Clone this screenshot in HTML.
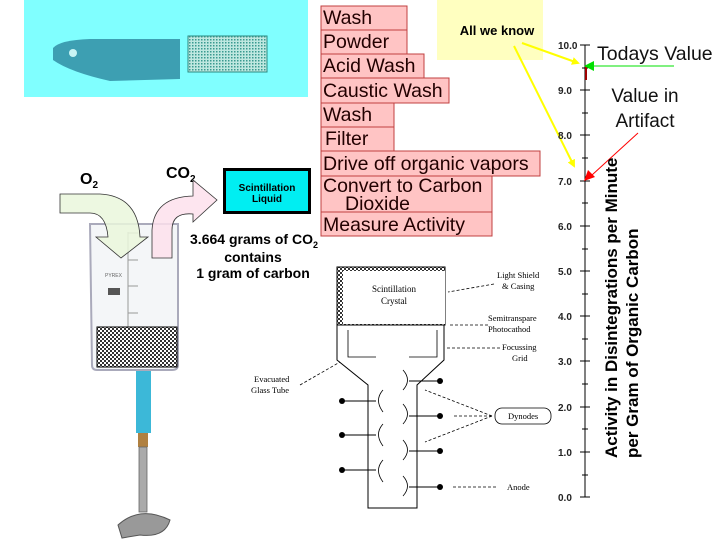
<!DOCTYPE html>
<html><head><style>
body{margin:0;background:#fff;}
svg{display:block;font-family:"Liberation Sans",sans-serif;}
</style></head><body>
<svg width="728" height="546" viewBox="0 0 728 546" xmlns="http://www.w3.org/2000/svg">
<defs>
<pattern id="chk" width="4" height="4" patternUnits="userSpaceOnUse"><rect width="4" height="4" fill="#fff"/><rect width="2" height="2" fill="#333"/><rect x="2" y="2" width="2" height="2" fill="#333"/></pattern>
<pattern id="chk2" width="3" height="3" patternUnits="userSpaceOnUse"><rect width="3" height="3" fill="#bfe8e0"/><rect width="1.5" height="1.5" fill="#3a9a90"/></pattern>
<marker id="ay" markerWidth="8" markerHeight="8" refX="6" refY="4" orient="auto" markerUnits="userSpaceOnUse"><path d="M0,0L8,4L0,8z" fill="#ffff00"/></marker>
</defs>
<rect x="24" y="0" width="284" height="97" fill="#80ffff"/>
<path d="M53,48 Q60,40 90,39 L180,39 L180,79 L110,81 Q70,72 53,60 Z" fill="#3d9fb2"/>
<circle cx="73" cy="53" r="4" fill="#c8f4f4"/>
<rect x="188" y="36" width="79" height="36" fill="url(#chk2)" stroke="#2a8a80"/>
<rect x="437" y="0" width="106" height="60" fill="#ffffc0"/>
<text x="497" y="35" font-size="13" font-weight="bold" text-anchor="middle">All we know</text>
<g fill="#ffc4c4" stroke="#c04040" stroke-width="1">
<rect x="321" y="6" width="86" height="24"/>
<rect x="321" y="30" width="86" height="24"/>
<rect x="321" y="54" width="103" height="24"/>
<rect x="321" y="78" width="128" height="25"/>
<rect x="321" y="103" width="73" height="24"/>
<rect x="321" y="127" width="73" height="24"/>
<rect x="321" y="151" width="219" height="25"/>
<rect x="321" y="176" width="171" height="36"/>
<rect x="321" y="212" width="171" height="24"/>
</g>
<g font-size="19.5" fill="#200">
<text x="323" y="24">Wash</text>
<text x="323" y="48">Powder</text>
<text x="323" y="72">Acid Wash</text>
<text x="323" y="97">Caustic Wash</text>
<text x="323" y="121">Wash</text>
<text x="325" y="145">Filter</text>
<text x="323" y="170">Drive off organic vapors</text>
<text x="323" y="192">Convert to Carbon</text>
<text x="345" y="210">Dioxide</text>
<text x="323" y="231">Measure Activity</text>
</g>
<line x1="522" y1="43" x2="578" y2="63" stroke="#ffff00" stroke-width="2" marker-end="url(#ay)"/>
<line x1="514" y1="46" x2="574" y2="166" stroke="#ffff00" stroke-width="2" marker-end="url(#ay)"/>
<line x1="585" y1="45" x2="585" y2="497" stroke="#000"/>
<g stroke="#000">
<line x1="580" y1="45" x2="590" y2="45"/><line x1="580" y1="90" x2="590" y2="90"/><line x1="580" y1="135" x2="590" y2="135"/><line x1="580" y1="181" x2="590" y2="181"/><line x1="580" y1="226" x2="590" y2="226"/><line x1="580" y1="271" x2="590" y2="271"/><line x1="580" y1="316" x2="590" y2="316"/><line x1="580" y1="361" x2="590" y2="361"/><line x1="580" y1="407" x2="590" y2="407"/><line x1="580" y1="452" x2="590" y2="452"/><line x1="580" y1="497" x2="590" y2="497"/>
<line x1="582" y1="68" x2="588" y2="68"/><line x1="582" y1="113" x2="588" y2="113"/><line x1="582" y1="158" x2="588" y2="158"/><line x1="582" y1="203" x2="588" y2="203"/><line x1="582" y1="249" x2="588" y2="249"/><line x1="582" y1="294" x2="588" y2="294"/><line x1="582" y1="339" x2="588" y2="339"/><line x1="582" y1="384" x2="588" y2="384"/><line x1="582" y1="429" x2="588" y2="429"/><line x1="582" y1="475" x2="588" y2="475"/>
</g>
<g font-size="10" font-weight="bold" fill="#222">
<text x="558" y="49">10.0</text><text x="558" y="94">9.0</text><text x="558" y="139">8.0</text><text x="558" y="185">7.0</text><text x="558" y="230">6.0</text><text x="558" y="275">5.0</text><text x="558" y="320">4.0</text><text x="558" y="365">3.0</text><text x="558" y="411">2.0</text><text x="558" y="456">1.0</text><text x="558" y="501">0.0</text>
</g>
<line x1="586" y1="66" x2="586" y2="80" stroke="#a00000" stroke-width="2"/>
<line x1="674" y1="66" x2="592" y2="66" stroke="#00e000"/>
<path d="M584,66 L594,61 L594,71 Z" fill="#00e000"/>
<line x1="638" y1="133" x2="592" y2="175" stroke="#ff0000"/>
<path d="M584,181 L588,170 L595,177 Z" fill="#ff0000"/>
<text x="597" y="60" font-size="19.5" fill="#111">Todays Value</text>
<text x="645" y="102" font-size="19" fill="#111" text-anchor="middle">Value in</text>
<text x="645" y="127" font-size="19" fill="#111" text-anchor="middle">Artifact</text>
<text transform="translate(617,458) rotate(-90)" font-size="17" font-weight="bold">Activity in Disintegrations per Minute</text>
<text transform="translate(638,458) rotate(-90)" font-size="17" font-weight="bold">per Gram of Organic Carbon</text>
<!-- beaker -->
<path d="M90,224 L178,224 L178,365 Q178,370 172,370 L97,370 Q92,370 92,365 Z" fill="#f4f6f8" stroke="#aab" stroke-width="2"/>
<line x1="128" y1="232" x2="128" y2="327" stroke="#999"/>
<g stroke="#999"><line x1="128" y1="233" x2="138" y2="233"/><line x1="128" y1="260" x2="138" y2="260"/><line x1="128" y1="286" x2="138" y2="286"/><line x1="128" y1="313" x2="138" y2="313"/></g>
<rect x="108" y="288" width="12" height="7" fill="#555"/>
<text x="105" y="277" font-size="5" fill="#666">PYREX</text>
<rect x="97" y="327" width="80" height="40" fill="url(#chk)" stroke="#000"/>
<rect x="136" y="371" width="15" height="62" fill="#3cb8d8"/>
<rect x="138" y="433" width="10" height="14" fill="#b08040"/>
<rect x="139" y="447" width="8" height="65" fill="#aaa" stroke="#666" stroke-width="0.8"/>
<path d="M118,525 Q140,505 170,520 Q165,538 140,535 L122,538 Z" fill="#999" stroke="#555"/>
<!-- O2 CO2 arrows -->
<text x="80" y="184" font-size="16" font-weight="bold">O<tspan font-size="10" dy="4">2</tspan></text>
<text x="166" y="178" font-size="16" font-weight="bold">CO<tspan font-size="10" dy="4">2</tspan></text>
<path d="M60,194 L100,194 Q138,196 140,237 L148,237 L121,258 L96,237 L108,237 Q106,213 90,213 L60,213 Z" fill="#eaf7dc" fill-opacity="0.85" stroke="#333" stroke-width="0.8"/>
<path d="M152,258 L152,230 Q154,197 193,196 L193,180 L217,200 L193,222 L193,214 Q172,212 172,230 L172,258 Z" fill="#fde0ec" fill-opacity="0.85" stroke="#333" stroke-width="0.8"/>
<rect x="224.5" y="169.5" width="85" height="43" fill="#00eef2" stroke="#000" stroke-width="3"/>
<text x="267" y="191" font-size="10" font-weight="bold" text-anchor="middle">Scintillation</text>
<text x="267" y="202" font-size="10" font-weight="bold" text-anchor="middle">Liquid</text>
<g font-size="14" font-weight="bold" text-anchor="middle">
<text x="254" y="244">3.664 grams of CO<tspan font-size="9" dy="4">2</tspan></text>
<text x="253" y="262">contains</text>
<text x="253" y="278">1 gram of carbon</text>
</g>
<!-- PMT diagram -->
<rect x="337" y="267" width="108" height="58" fill="url(#chk)" stroke="#000"/>
<rect x="343" y="271" width="102" height="53" fill="#fff"/>
<text x="394" y="292" font-size="9" font-family="Liberation Serif" text-anchor="middle">Scintillation</text>
<text x="394" y="304" font-size="9" font-family="Liberation Serif" text-anchor="middle">Crystal</text>
<path d="M337,325 L337,360 L368,385 L368,508 L417,508 L417,385 L444,360 L444,325 Z" fill="none" stroke="#000"/>
<path d="M348,330 L348,357 L376,357 M409,357 L437,357 L437,330" fill="none" stroke="#000" stroke-width="0.8"/>
<g stroke="#000" fill="none" stroke-width="0.8">
<path d="M403,370 Q412,380 403,390"/><path d="M403,404 Q412,414 403,424"/><path d="M403,440 Q412,450 403,460"/><path d="M403,476 Q412,486 403,496"/>
<path d="M383,390 Q374,400 383,412"/><path d="M383,424 Q374,434 383,446"/><path d="M383,460 Q374,470 383,482"/>
</g>
<g stroke="#000"><line x1="409" y1="381" x2="440" y2="381"/><line x1="409" y1="416" x2="440" y2="416"/><line x1="409" y1="451" x2="440" y2="451"/><line x1="409" y1="487" x2="440" y2="487"/><line x1="342" y1="401" x2="376" y2="401"/><line x1="342" y1="435" x2="376" y2="435"/><line x1="342" y1="470" x2="376" y2="470"/></g>
<g fill="#000"><circle cx="440" cy="381" r="3"/><circle cx="440" cy="416" r="3"/><circle cx="440" cy="451" r="3"/><circle cx="440" cy="487" r="3"/><circle cx="342" cy="401" r="3"/><circle cx="342" cy="435" r="3"/><circle cx="342" cy="470" r="3"/></g>
<g stroke="#000" stroke-dasharray="3,2" stroke-width="0.8" fill="none">
<line x1="494" y1="284" x2="448" y2="292"/><line x1="488" y1="325" x2="448" y2="325"/><line x1="500" y1="348" x2="447" y2="348"/><line x1="300" y1="385" x2="340" y2="362"/><line x1="492" y1="416" x2="425" y2="390"/><line x1="492" y1="416" x2="452" y2="416"/><line x1="492" y1="416" x2="425" y2="442"/><line x1="496" y1="487" x2="452" y2="487"/>
</g>
<rect x="495" y="408" width="56" height="16" rx="7" fill="#fff" stroke="#000" stroke-width="0.8"/>
<g font-family="Liberation Serif" font-size="8.5" fill="#000">
<text x="497" y="278">Light Shield</text><text x="502" y="289">&amp; Casing</text>
<text x="488" y="321">Semitranspare</text><text x="488" y="332">Photocathod</text>
<text x="502" y="350">Focussing</text><text x="512" y="361">Grid</text>
<text x="254" y="382">Evacuated</text><text x="251" y="393">Glass Tube</text>
<text x="508" y="419">Dynodes</text>
<text x="507" y="490">Anode</text>
</g>
</svg>
</body></html>
